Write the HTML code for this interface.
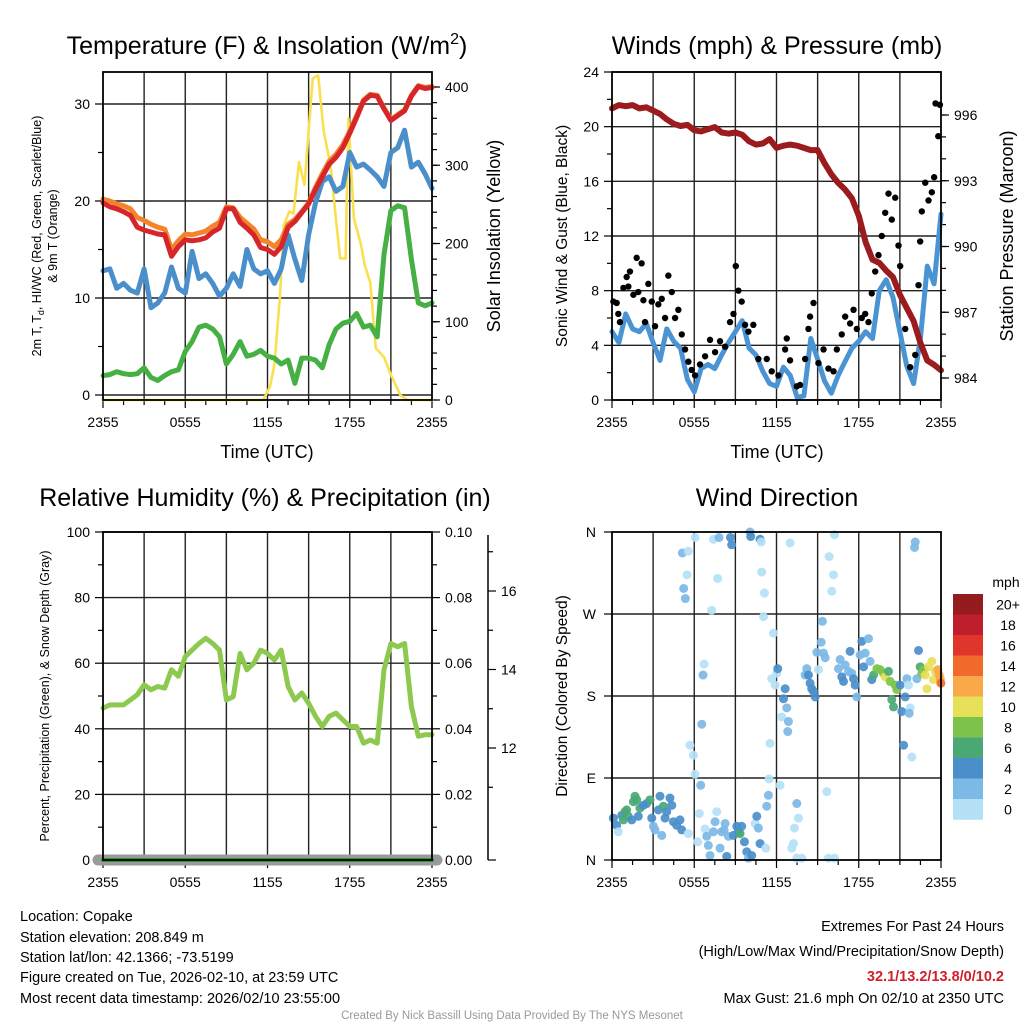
<!DOCTYPE html>
<html><head><meta charset="utf-8"><style>
html,body{margin:0;padding:0;background:#fff;}
svg{display:block;font-family:"Liberation Sans",Arial,sans-serif;}
</style></head><body>
<svg id="fig" width="1024" height="1024" viewBox="0 0 1024 1024">
<rect width="1024" height="1024" fill="#fff"/>
<g id="g1"></g>
<g id="g2"></g>
<g id="g3"></g>
<g id="g4"></g>
<g font-size="14.5" fill="#000">
<text x="20" y="921">Location: Copake</text>
<text x="20" y="942">Station elevation: 208.849 m</text>
<text x="20" y="962">Station lat/lon: 42.1366; -73.5199</text>
<text x="20" y="982">Figure created on Tue, 2026-02-10, at 23:59 UTC</text>
<text x="20" y="1003">Most recent data timestamp: 2026/02/10 23:55:00</text>
</g>
<g font-size="14.5" text-anchor="end">
<text x="1004" y="931">Extremes For Past 24 Hours</text>
<text x="1004" y="956">(High/Low/Max Wind/Precipitation/Snow Depth)</text>
<text x="1004" y="981" fill="#d0202a" font-weight="bold">32.1/13.2/13.8/0/10.2</text>
<text x="1004" y="1003">Max Gust: 21.6 mph On 02/10 at 2350 UTC</text>
</g>
<text x="512" y="1019" text-anchor="middle" font-size="11.5" fill="#999">Created By Nick Bassill Using Data Provided By The NYS Mesonet</text>
</svg>
<script>
// ---------- data ----------
const halfHours = Array.from({length:49},(_, i)=>i*0.5);
const xTickLabels = ["2355","0555","1155","1755","2355"];
const tempRed = [19.8,19.4,19.2,18.9,18.5,17.3,17.0,16.8,16.6,16.5,14.3,15.3,16.0,15.9,16.0,16.2,16.8,17.2,19.2,19.2,17.8,17.2,16.5,15.2,15.0,14.5,15.3,17.3,17.9,18.8,19.7,21.2,22.5,23.8,24.5,25.5,27.0,28.6,30.3,30.9,30.8,29.5,28.3,28.8,29.3,30.8,31.8,31.6,31.7];
const temp9mOrange = [20.2,20.0,19.7,19.5,19.2,18.3,18.0,17.6,17.3,17.1,15.0,15.9,16.6,16.5,16.7,16.9,17.4,17.8,19.4,19.3,18.3,17.7,17.1,16.0,15.8,15.3,16.0,17.6,18.1,18.9,19.8,21.4,22.8,24.1,24.8,25.8,27.2,28.8,30.4,31.0,30.9,29.6,28.4,28.9,29.4,30.9,31.9,31.7,31.8];
const windChillBlue = [12.8,13.0,11.0,11.5,10.8,10.5,13.0,9.0,9.5,10.5,13.2,11.0,10.5,14.8,12.0,12.5,11.5,10.2,11.0,12.5,11.2,15.0,13.0,12.5,12.8,11.5,13.0,16.5,14.0,11.8,16.5,19.8,22.0,22.5,21.0,21.5,25.0,23.5,23.8,23.2,22.5,21.5,25.0,25.5,27.3,23.5,24.0,22.8,21.3];
const dewGreen = [2.0,2.1,2.4,2.2,2.1,2.2,2.8,1.8,1.5,2.0,2.4,2.6,4.5,5.5,7.0,7.2,6.8,6.0,3.2,4.2,5.5,4.0,4.2,4.6,4.0,3.8,3.2,3.6,1.2,3.8,3.8,3.6,2.8,5.2,6.8,7.4,7.6,8.4,7.0,7.2,6.0,14.5,19.0,19.5,19.3,14.0,9.5,9.2,9.5];
const solarHours = [0,11.7,12.2,12.5,12.9,13.2,13.6,13.9,14.3,14.7,15.0,15.3,15.7,16.1,16.6,17.0,17.3,17.7,17.9,18.3,18.8,19.1,19.5,19.9,20.5,21.0,21.7,22.2,24];
const solarVals = [0,0,18,45,130,224,241,238,304,275,343,411,415,343,300,230,181,181,360,232,200,172,150,66,55,32,6,0,0];
const pressure = [996.3,996.45,996.4,996.45,996.3,996.35,996.2,996.05,995.8,995.6,995.5,995.55,995.3,995.25,995.35,995.45,995.2,995.15,995.2,995.1,994.8,994.65,994.7,994.9,994.5,994.6,994.65,994.6,994.5,994.4,994.4,993.8,993.3,992.9,992.6,992.2,991.4,990.2,989.4,989.25,988.9,988.6,987.8,987.2,986.6,985.6,984.8,984.6,984.35];
const sonicWind = [5.0,4.2,6.3,5.2,5.0,5.6,4.2,2.9,5.2,4.3,3.8,1.5,0.6,2.3,2.6,2.3,3.3,4.2,5.0,5.8,3.8,3.3,2.1,1.2,1.0,2.4,1.8,0.2,0.3,4.5,3.0,1.4,0.5,1.8,2.8,3.8,4.3,5.0,4.5,8.0,8.8,7.5,5.0,2.5,1.2,4.5,9.8,8.5,13.6];
const gustHours = [0.1,0.34,0.46,0.58,0.83,1.07,1.19,1.31,1.56,1.8,1.92,2.16,2.29,2.41,2.65,2.9,3.14,3.38,3.63,3.87,4.11,4.36,4.6,4.84,5.09,5.33,5.57,5.81,6.06,6.42,6.79,7.15,7.52,7.88,8.25,8.61,8.86,9.03,9.22,9.46,9.71,9.95,10.31,10.68,11.29,11.65,12.14,12.63,12.75,12.99,13.48,13.72,14.09,14.33,14.45,14.7,15.06,15.43,15.79,16.16,16.4,16.76,17.01,17.37,17.62,17.86,18.22,18.47,18.71,18.95,19.2,19.44,19.68,19.93,20.17,20.41,20.66,20.9,21.02,21.39,21.75,22.12,22.36,22.48,22.6,22.85,23.09,23.33,23.5,23.6,23.8,23.92];
const gustVals = [7.2,7.1,6.3,5.7,8.2,9.0,8.3,9.4,7.7,10.4,7.9,10.0,7.3,5.7,8.5,7.2,5.4,7.0,7.4,6.0,9.1,7.9,6.0,6.6,4.8,3.7,2.8,2.2,1.8,2.6,3.2,4.4,3.5,4.3,3.9,5.7,6.3,9.8,8.0,7.2,5.5,5.0,5.5,3.0,3.0,2.1,1.8,3.7,4.5,2.9,1.0,1.1,3.0,5.2,6.1,7.1,2.7,3.7,2.3,2.1,3.7,4.8,6.1,5.6,6.6,5.2,6.0,6.3,5.7,7.8,9.4,10.6,12.0,13.7,15.1,13.2,14.8,11.3,9.8,5.2,2.4,3.3,8.4,11.6,13.8,15.9,14.6,15.2,16.3,21.7,19.3,21.6];
const rhVals = [46.3,47.3,47.3,47.3,48.8,50.4,53.4,51.9,52.9,52.4,58,56,62,64,66,67.6,66,64,48.8,49.8,63,58,60,64,63,61,64,52.9,48.8,50.9,47.8,43.8,40.7,43.8,44.8,42.7,40.7,40.7,35.6,36.6,35.6,58,66,65,66,46.8,37.7,38.2,38.2];
const precipVals = Array(49).fill(0);
const dirHours = [0.1,0.34,0.46,0.71,0.83,0.95,1.07,1.19,1.44,1.56,1.68,1.8,1.92,2.04,2.29,2.53,2.77,2.9,3.02,3.14,3.38,3.5,3.63,3.75,3.87,3.99,4.23,4.36,4.48,4.72,4.96,5.09,5.57,5.69,5.94,6.06,6.25,6.37,6.47,6.55,6.64,6.72,6.79,6.91,7.03,7.15,7.27,7.4,7.52,7.64,7.71,7.88,8.0,8.18,8.25,8.37,8.49,8.73,8.86,9.1,9.22,9.34,9.46,9.66,9.83,9.95,10.19,10.44,10.56,10.68,10.8,10.92,11.05,11.12,11.22,11.29,11.41,11.46,11.53,11.65,11.78,11.9,12.02,12.09,12.26,12.38,12.51,12.63,12.75,12.87,12.82,12.99,13.11,13.24,13.31,13.48,13.6,13.48,13.84,14.09,14.21,14.33,14.45,14.57,14.7,14.82,14.94,15.06,15.26,15.35,15.43,15.55,15.67,15.79,15.84,16.03,16.16,16.23,16.23,16.52,16.64,16.76,16.89,17.01,17.25,17.37,17.49,17.62,17.74,17.86,18.1,18.22,18.35,18.47,18.71,18.83,18.95,19.08,19.32,19.56,19.81,19.93,20.17,20.29,20.41,20.54,20.66,20.78,21.02,21.14,21.27,21.39,21.51,21.63,21.75,21.68,21.87,22.12,22.07,22.24,22.36,22.48,22.6,22.73,22.85,22.97,23.09,23.33,23.45,23.58,23.77,23.87,23.95,23.99,6.06,7.4,7.81,8.64,10.07,10.12,10.8,10.88,5.13,5.57,5.47,5.23,5.35];
const dirDeg = [46,38,31,49,44,53,55,48,44,64,70,66,48,57,60,62,66,46,37,33,55,70,27,59,46,53,68,60,42,38,44,33,29,126,115,94,20,51,82,149,203,215,34,26,16,5,274,31,42,53,309,13,31,33,40,4,26,346,27,37,31,29,37,20,9,2,5,40,48,35,18,316,267,293,13,59,71,89,128,199,249,192,205,210,82,157,177,188,167,152,141,348,13,18,35,2,46,62,2,203,210,203,194,188,185,179,228,209,239,262,227,222,75,2,333,295,313,2,357,210,220,201,196,214,207,229,205,199,192,179,225,240,212,227,243,218,198,203,210,209,205,201,207,196,176,168,192,187,192,163,126,179,199,192,167,161,113,349,343,199,230,212,205,209,203,188,212,218,198,207,209,203,199,194,354,352,354,354,360,355,352,349,337,339,313,298,287];
const dirSpeed = [5,5,1,5,7,7,7,7,5,7,7,7,5,7,5,5,7,5,3,3,5,5,3,7,5,5,5,5,5,5,5,5,1,1,1,1,1,1,3,3,3,1,1,3,3,3,1,3,3,1,1,3,3,3,3,5,3,5,5,5,5,7,5,5,5,3,5,1,5,3,5,1,1,1,1,3,3,1,1,1,1,1,1,5,1,1,5,5,3,3,3,1,1,1,1,1,1,3,1,3,3,5,5,5,5,5,3,1,3,3,3,3,1,1,1,1,1,1,1,3,3,5,5,3,3,5,3,5,5,3,3,5,5,3,3,3,5,7,9,9,9,11,7,9,7,7,9,9,5,5,5,5,3,1,1,3,1,3,3,3,5,7,9,9,11,11,11,11,11,11,13,13,13,15,1,1,3,5,3,5,5,1,3,1,1,3,3];
const cbLabels = ["20+","18","16","14","12","10","8","6","4","2","0"];
const cbColors = ["#941b1e","#bf1e2d","#e0352b","#f26a2b","#f9a94a","#e8e058","#7dc34b","#4aa875","#4a8fca","#7cb9e6","#b5e1f7"];

// ---------- helpers ----------
const NS="http://www.w3.org/2000/svg";
function mk(parent,tag,attrs,text){const e=document.createElementNS(NS,tag);for(const k in attrs)e.setAttribute(k,attrs[k]);if(text!==undefined)e.textContent=text;parent.appendChild(e);return e;}
function linScale(d0,d1,r0,r1){return v=>r0+(v-d0)/(d1-d0)*(r1-r0);}
function pathFrom(xs,ys,sx,sy){let d="";for(let i=0;i<xs.length;i++){if(ys[i]==null)continue;d+=(d?"L":"M")+sx(xs[i]).toFixed(1)+","+sy(ys[i]).toFixed(1);}return d;}

function frame(g,L,R,T,B,sx){
  for(let h=3;h<24;h+=3){const gl=mk(g,"line",{x1:sx(h),x2:sx(h),y1:T,y2:B,stroke:"#222","stroke-width":1.4});
    
    }
  for(let h=0;h<=24;h+=1.5){const len=(h%6===0)?8:5;mk(g,"line",{x1:sx(h),x2:sx(h),y1:B,y2:B+len,stroke:"#000","stroke-width":1.2});}
  xTickLabels.forEach((lab,i)=>{const t=mk(g,"text",{x:sx(i*6),y:B+27,"text-anchor":"middle","font-size":14},lab);
    
    });
}
function border(g,L,R,T,B){const r=mk(g,"rect",{x:L,y:T,width:R-L,height:B-T,fill:"none",stroke:"#000","stroke-width":1.8});
  
  }
function yAxis(g,x,sy,majors,minors,fmt,side,grid,L,R){
  const dir=side==="left"?-1:1;
  minors.forEach(v=>mk(g,"line",{x1:x,x2:x+dir*5,y1:sy(v),y2:sy(v),stroke:"#000","stroke-width":1.2}));
  majors.forEach(v=>{
    if(grid) {const gl=mk(g,"line",{x1:L,x2:R,y1:sy(v),y2:sy(v),stroke:"#222","stroke-width":1.4});
      
      }
    mk(g,"line",{x1:x,x2:x+dir*8,y1:sy(v),y2:sy(v),stroke:"#000","stroke-width":1.2});
    const t=mk(g,"text",{x:x+dir*13,y:sy(v)+5,"text-anchor":side==="left"?"end":"start","font-size":14},fmt(v));
    
    
  });
}
function range(a,b,s){const r=[];for(let v=a;v<=b+1e-9;v+=s)r.push(+v.toFixed(4));return r;}
function title(g,x,y,txt,size){const t=mk(g,"text",{x:x,y:y,"text-anchor":"middle","font-size":size||25});t.innerHTML=txt;
  
  return t;}
function vtitle(g,x,y,txt,size,name){const t=mk(g,"text",{x:x,y:y,"text-anchor":"middle","font-size":size,transform:`rotate(-90 ${x} ${y})`});t.innerHTML=txt;
  
  return t;}
function line(g,xs,ys,sx,sy,color,w,name){const p=mk(g,"path",{d:pathFrom(xs,ys,sx,sy),fill:"none",stroke:color,"stroke-width":w,"stroke-linejoin":"round","stroke-linecap":"round"});
  
  return p;}

// ---------- panel 1 ----------
(function(){
  const g=document.getElementById("g1");const L=103,R=432,T=72,B=400;
  const sx=linScale(0,24,L,R), sy=linScale(0,30,395,104), sy2=linScale(0,400,400,87);
  frame(g,L,R,T,B,sx);
  yAxis(g,L,sy,[0,10,20,30],[5,15,25],v=>String(v),"left",true,L,R);
  yAxis(g,R,sy2,[0,100,200,300,400],range(0,400,20),v=>String(v),"right",false);
  line(g,solarHours,solarVals,sx,sy2,"#f9e04f",2.6,"solar-insolation-line");
  line(g,halfHours,windChillBlue,sx,sy,"#4a8fca",5,"wind-chill-line");
  line(g,halfHours,dewGreen,sx,sy,"#46b045",5,"dewpoint-line");
  line(g,halfHours,temp9mOrange,sx,sy,"#f3842b",5,"temp-9m-line");
  line(g,halfHours,tempRed,sx,sy,"#d7262b",5,"temp-2m-line");
  border(g,L,R,T,B);
  title(g,267,54,'Temperature (F) &amp; Insolation (W/m<tspan dy="-10" font-size="16">2</tspan><tspan dy="10">)</tspan>');
  const xt=mk(g,"text",{x:267,y:458,"text-anchor":"middle","font-size":18},"Time (UTC)");
  
  
  vtitle(g,41,236,'2m T, T<tspan font-size="9" dy="3">d</tspan><tspan dy="-3">, HI/WC (Red, Green, Scarlet/Blue)</tspan>',12.5,"y-axis-title-left");
  vtitle(g,57,236,'&amp; 9m T (Orange)',12.5,"y-axis-title-left-2");
  vtitle(g,500,236,'Solar Insolation (Yellow)',18,"y-axis-title-right");
})();

// ---------- panel 2 ----------
(function(){
  const g=document.getElementById("g2");const L=612,R=941,T=72,B=400;
  const sx=linScale(0,24,L,R), sy=linScale(0,24,B,T), sy2=linScale(984,996,378,115);
  frame(g,L,R,T,B,sx);
  yAxis(g,L,sy,[0,4,8,12,16,20,24],range(2,22,4),v=>String(v),"left",true,L,R);
  yAxis(g,R,sy2,[984,987,990,993,996],range(984,996,1),v=>String(v),"right",false);
  line(g,halfHours,sonicWind,sx,sy,"#4a94d3",5,"sonic-wind-line");
  gustHours.forEach((h,i)=>{const c=mk(g,"circle",{cx:sx(h),cy:sy(gustVals[i]),r:3.2,fill:"#000"});
    
    });
  line(g,halfHours,pressure,sx,sy2,"#9b1b1e",6,"pressure-line");
  border(g,L,R,T,B);
  title(g,777,54,'Winds (mph) &amp; Pressure (mb)');
  const xt=mk(g,"text",{x:777,y:458,"text-anchor":"middle","font-size":18},"Time (UTC)");
  
  
  vtitle(g,567,236,'Sonic Wind &amp; Gust (Blue, Black)',15.5,"y-axis-title-left");
  vtitle(g,1013,236,'Station Pressure (Maroon)',18,"y-axis-title-right");
})();

// ---------- panel 3 ----------
(function(){
  const g=document.getElementById("g3");const L=103,R=432,T=532,B=860;
  const sx=linScale(0,24,L,R), sy=linScale(0,100,B,T), sy2=linScale(0,0.1,B,T), sy3=linScale(12,16,748,591);
  frame(g,L,R,T,B,sx);
  yAxis(g,L,sy,[0,20,40,60,80,100],range(10,90,20),v=>String(v),"left",true,L,R);
  yAxis(g,R,sy2,[0,0.02,0.04,0.06,0.08,0.1],range(0.01,0.09,0.02),v=>v.toFixed(2),"right",false);
  const ax=mk(g,"line",{x1:488,x2:488,y1:535,y2:B,stroke:"#000","stroke-width":1.5});
  
  
  yAxis(g,488,sy3,[12,14,16],[11,13,15,17],v=>String(v),"right",false);
  mk(g,"line",{x1:488,x2:496,y1:B,y2:B,stroke:"#000","stroke-width":1.2});
  const sd=mk(g,"line",{x1:98,x2:437,y1:B,y2:B,stroke:"#9a9a9a","stroke-width":11,"stroke-linecap":"round"});
  
  
  line(g,halfHours,precipVals,sx,sy2,"#2e9a34",4,"precipitation-line");
  line(g,halfHours,rhVals,sx,sy,"#8dc94f",5,"relative-humidity-line");
  border(g,L,R,T,B);
  title(g,265,506,'Relative Humidity (%) &amp; Precipitation (in)');
  vtitle(g,49,696,'Percent, Precipitation (Green), &amp; Snow Depth (Gray)',12.5,"y-axis-title-left");
})();

// ---------- panel 4 ----------
(function(){
  const g=document.getElementById("g4");const L=612,R=941,T=532,B=860;
  const sx=linScale(0,24,L,R), sy=linScale(0,360,B,T);
  frame(g,L,R,T,B,sx);
  const labs=["N","E","S","W","N"];
  [0,90,180,270,360].forEach((v,i)=>{
    if(v>0&&v<360){const gl=mk(g,"line",{x1:L,x2:R,y1:sy(v),y2:sy(v),stroke:"#222","stroke-width":1.4});
      
      }
    mk(g,"line",{x1:L,x2:L-8,y1:sy(v),y2:sy(v),stroke:"#000","stroke-width":1.2});
    const t=mk(g,"text",{x:L-16,y:sy(v)+5,"text-anchor":"end","font-size":14},labs[i]);
    
    
  });
  function colorFor(s){const idx=Math.min(10,Math.floor(s/2));return cbColors[10-idx];}
  dirHours.forEach((h,i)=>{const c=mk(g,"circle",{cx:sx(h),cy:sy(dirDeg[i]),r:4.5,fill:colorFor(dirSpeed[i]),"fill-opacity":0.92});
    
    });
  border(g,L,R,T,B);
  title(g,777,506,'Wind Direction');
  vtitle(g,567,696,'Direction (Colored By Speed)',15.5,"y-axis-title-left");
  const cb=mk(g,"g",{});
  
  
  const ut=mk(cb,"text",{x:1006,y:587,"text-anchor":"middle","font-size":14},"mph");
  
  
  cbLabels.forEach((lab,i)=>{
    const y=594+i*20.5;
    const r=mk(cb,"rect",{x:953,y:y,width:30,height:20.8,fill:cbColors[i]});
    
    
    const t=mk(cb,"text",{x:1008,y:y+15.5,"text-anchor":"middle","font-size":14},lab);
    
    
  });
})();
</script>
</body></html>
